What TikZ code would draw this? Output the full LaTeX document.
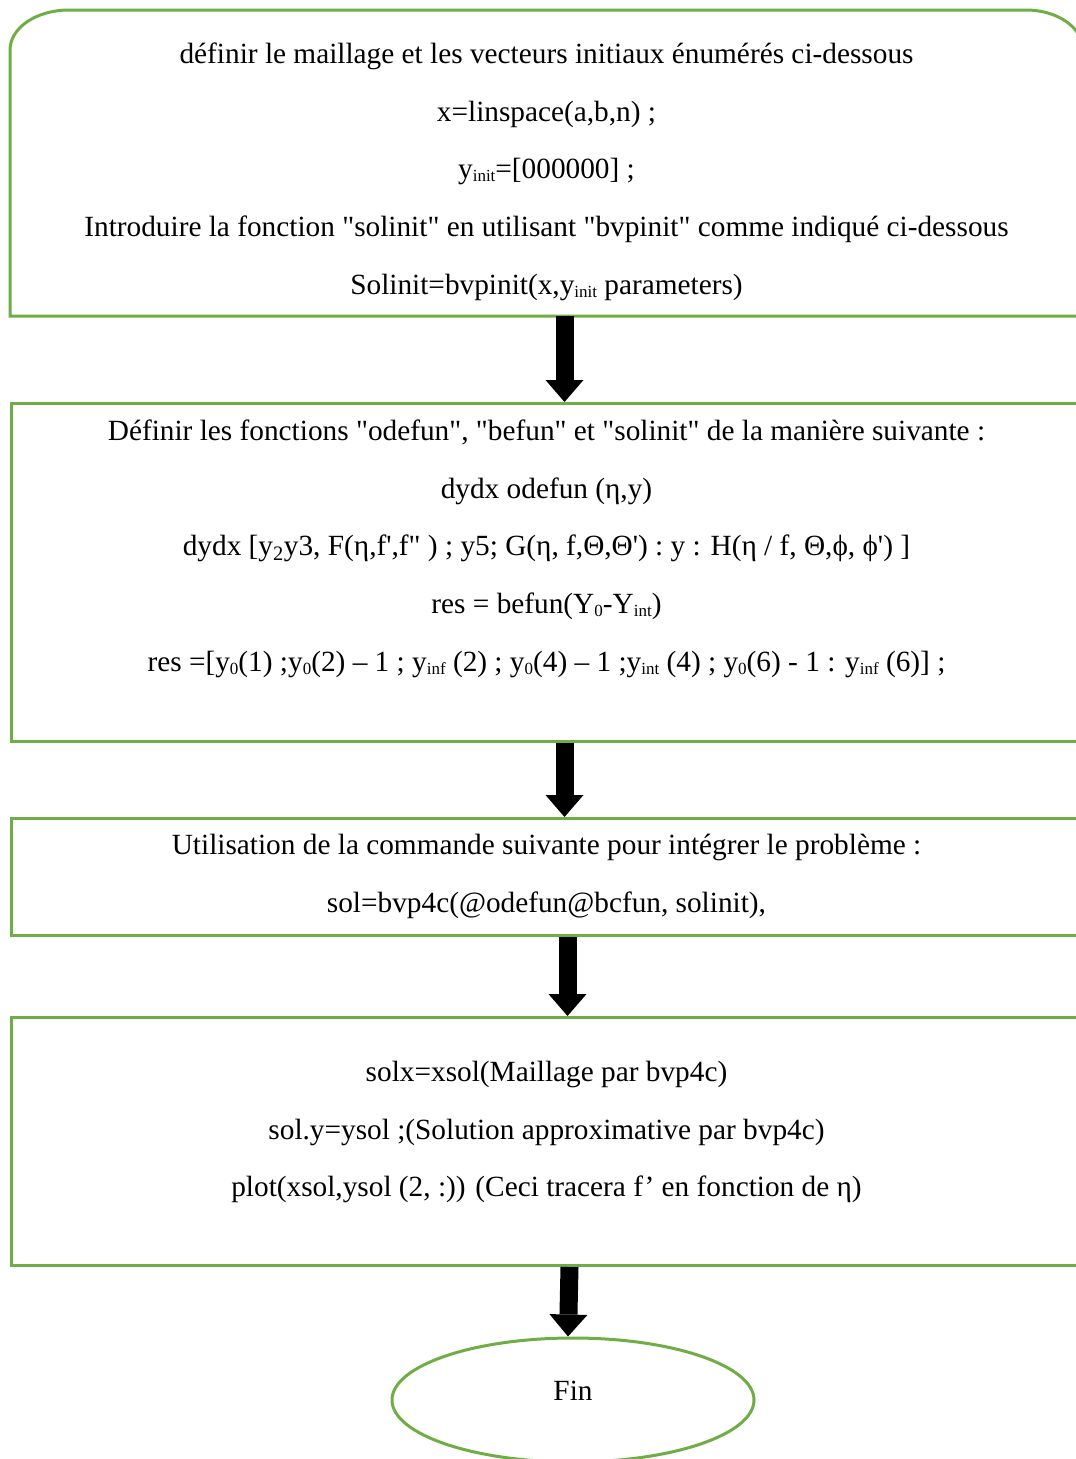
\documentclass[tikz,border=0pt]{standalone}
\usepackage{fontspec}
\setmainfont{Liberation Serif}
\usepackage{tikz}
\usetikzlibrary{shapes,arrows.meta,positioning}
\definecolor{boxgreen}{RGB}{112,173,71}
\newcommand{\prm}{\textquotesingle}
\newcommand{\dq}{\textquotedbl}
\newcommand{\lowidx}[1]{\raisebox{-3pt}{\fontsize{17pt}{17pt}\selectfont #1}}

\begin{document}
\begin{tikzpicture}[x=1pt, y=-1pt,
    box/.style={draw=boxgreen, line width=3pt, rectangle, anchor=north west, inner sep=0pt,
        text width=1070pt, align=flush center, font=\fontsize{29.3pt}{57.7pt}\selectfont},
    flow/.style={line width=18pt, -{Triangle[width=38pt,length=22pt,line width=0pt]}}]
    \useasboundingbox (0,0) rectangle (1076,1459);

    \node[box, draw=none, text height=52pt, text depth=251pt] (init) at (10,10) {définir le maillage et les vecteurs initiaux énumérés ci-dessous\\
        x=linspace(a,b,n) ;\\
        y\lowidx{init}=[000000] ;\\
        Introduire la fonction \dq solinit\dq{} en utilisant \dq bvpinit\dq{} comme indiqué ci-dessous\\
        Solinit=bvpinit(x,y\lowidx{init} parameters)};
    \draw[boxgreen, line width=3pt] (init.south west) -- ([yshift=-40pt]init.north west)
        .. controls ([yshift=-18pt]init.north west) and ([xshift=26pt]init.north west) .. ([xshift=59pt]init.north west)
        -- ([xshift=-57pt]init.north east)
        .. controls ([xshift=-25pt]init.north east) and ([yshift=-18pt]init.north east) .. ([yshift=-40pt]init.north east)
        -- (init.south east) -- cycle;

    \node[box, text height=37pt, text depth=301pt] (deff) at (10,402) {Définir les fonctions \dq odefun\dq, \dq befun\dq{} et \dq solinit\dq{} de la manière suivante :\\
        dydx odefun (η,y)\\
        dydx [y\textsubscript{2}y3, F(η,f\prm,f\dq{} ) ; y5; G(η, f,Θ,Θ\prm) : y : H(η / f, Θ,ϕ, ϕ\prm) ]\\
        res = befun(Y\lowidx{0}-Y\lowidx{int})\\
        res =[y\lowidx{0}(1) ;y\lowidx{0}(2) -- 1 ; y\lowidx{inf} (2) ; y\lowidx{0}(4) -- 1 ;y\lowidx{int} (4) ; y\lowidx{0}(6) - 1 : y\lowidx{inf} (6)] ;};

    \node[box, text height=36pt, text depth=81pt] (integ) at (10,817) {Utilisation de la commande suivante pour intégrer le problème :\\
        sol=bvp4c(@odefun@bcfun, solinit),};

    \node[box, text height=64pt, text depth=184pt] (post) at (10,1016) {solx=xsol(Maillage par bvp4c)\\
        sol.y=ysol ;(Solution approximative par bvp4c)\\
        plot(xsol,ysol (2, :)) (Ceci tracera f' en fonction de η)};

    \node[draw=boxgreen, line width=3pt, ellipse, minimum width=362pt, minimum height=124pt, inner sep=0pt,
        text height=10pt, text depth=10pt, font=\fontsize{29.3pt}{35pt}\selectfont] (fin) at (573,1400) {Fin};

    \draw[flow] ([xshift=18pt]init.south) -- ([xshift=18pt]deff.north);
    \draw[flow] ([xshift=18pt]deff.south) -- ([xshift=18pt]integ.north);
    \draw[flow] ([xshift=21pt]integ.south) -- ([xshift=21pt]post.north);
    \draw[flow] ([xshift=23pt]post.south) -- ([xshift=-5pt]fin.north);
\end{tikzpicture}
\end{document}
